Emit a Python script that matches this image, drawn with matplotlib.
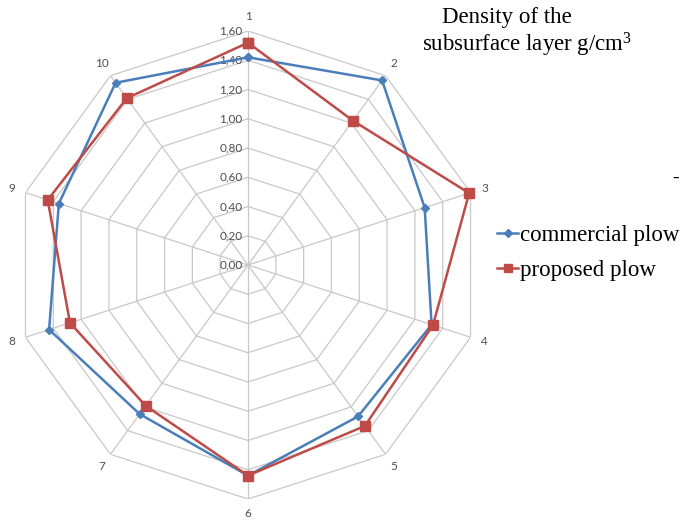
import numpy as np
import matplotlib
matplotlib.use("Agg")
import matplotlib.pyplot as plt
from matplotlib.lines import Line2D

categories = ["1", "2", "3", "4", "5", "6", "7", "8", "9", "10"]
commercial = [1.42, 1.56, 1.27, 1.32, 1.28, 1.44, 1.26, 1.43, 1.36, 1.54]
proposed = [1.52, 1.22, 1.59, 1.33, 1.36, 1.44, 1.19, 1.28, 1.44, 1.41]
ring_values = [0.0, 0.2, 0.4, 0.6, 0.8, 1.0, 1.2, 1.4, 1.6]
ring_labels = ["0,00", "0,20", "0,40", "0,60", "0,80", "1,00", "1,20", "1,40", "1,60"]
series_names = ["commercial plow", "proposed plow"]
title_line1 = "Density of the"
title_line2 = "subsurface layer g/cm$^3$"

BLUE = "#4A7EBB"
RED = "#BE4B48"
GRID = "#C8C8C8"
LABEL = "#4D4D4D"

plt.rcParams["mathtext.fontset"] = "custom"
plt.rcParams["mathtext.rm"] = "Liberation Serif"
plt.rcParams["mathtext.it"] = "Liberation Serif:italic"

W, H = 682, 520
fig = plt.figure(figsize=(W / 100, H / 100), dpi=100)
cx, cy, R = 248, 265, 234
ax = fig.add_axes([(cx - R) / W, (H - cy - R) / H, 2 * R / W, 2 * R / H], projection="polar")
ax.set_theta_zero_location("N")
ax.set_theta_direction(-1)
ax.set_ylim(0, 1.6)
ax.grid(False)
ax.spines["polar"].set_visible(False)
ax.set_xticks([])
ax.set_yticks([])
ax.patch.set_alpha(0)

n = len(categories)
angles = np.arange(n) * 2 * np.pi / n
closed = np.append(angles, angles[0])

for rv in ring_values[1:]:
    ax.plot(closed, [rv] * (n + 1), color=GRID, lw=0.9, zorder=1)
for a in angles:
    ax.plot([a, a], [0, ring_values[-1]], color=GRID, lw=0.9, zorder=1)

for rv, lab in zip(ring_values, ring_labels):
    ax.annotate(lab, xy=(0, rv), xytext=(-4, 0), textcoords="offset points",
                ha="right", va="center", fontsize=8.5, color=LABEL, family="Lato",
                zorder=2)

for a, lab in zip(angles, categories):
    ax.text(a, 1.70, lab, ha="center", va="center", fontsize=8.5, color=LABEL, family="Lato")

ax.plot(closed, commercial + commercial[:1], color=BLUE, lw=1.8, marker="D",
        markersize=4.5, zorder=3, label=series_names[0], clip_on=False)
ax.plot(closed, proposed + proposed[:1], color=RED, lw=1.8, marker="s",
        markersize=7, zorder=4, label=series_names[1], clip_on=False)

fig.text(507 / W, 1 - 17 / H, title_line1, ha="center", va="center",
         fontsize=16.5, family="Liberation Serif")
fig.text(527 / W, 1 - 45 / H, title_line2, ha="center", va="center",
         fontsize=16.5, family="Liberation Serif")
fig.text(676 / W, 1 - 178 / H, "-", ha="center", va="center", fontsize=14,
         family="Liberation Serif")

handles = [Line2D([], [], color=BLUE, lw=1.8, marker="D", markersize=4),
           Line2D([], [], color=RED, lw=1.8, marker="s", markersize=6)]
fig.legend(handles, series_names, loc="center left",
           bbox_to_anchor=(497 / W, 1 - 253 / H), frameon=False,
           prop={"family": "Liberation Serif", "size": 16.5},
           handlelength=0.92, handletextpad=0.1, labelspacing=0.6, borderpad=0,
           borderaxespad=0)

fig.savefig("out.png", dpi=100, facecolor="white")
